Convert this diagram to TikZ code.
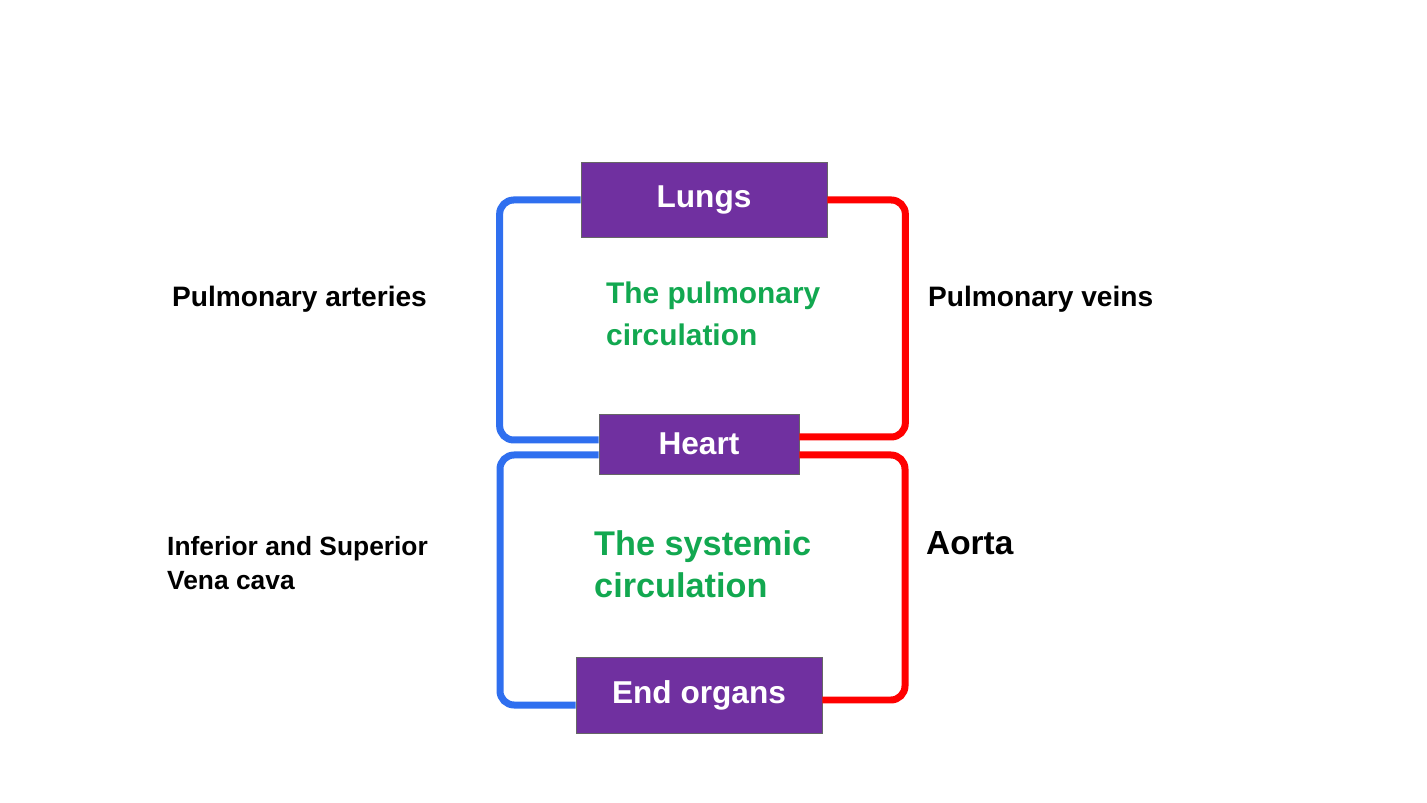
\documentclass[tikz,border=0pt]{standalone}
\usepackage{fontspec}
\setmainfont{Liberation Sans}
\usetikzlibrary{calc}
\definecolor{boxpurple}{HTML}{7030A0}
\definecolor{vesselblue}{HTML}{2F6FEF}
\definecolor{labelgreen}{HTML}{12A850}
\begin{document}
\begin{tikzpicture}[x=0.02cm,y=-0.02cm,
  organ/.style={draw=gray!80!black,fill=boxpurple,text=white,font=\bfseries\fontsize{18}{20}\selectfont,inner sep=0pt},
  vessel/.style={line width=0.14cm,rounded corners=8},
  side/.style={anchor=west,align=left,font=\bfseries}]
  \useasboundingbox (0,0) rectangle (1427,803);
  \node[organ,minimum width=246*0.02cm,minimum height=75*0.02cm] (lungs) at (704,200) {Lungs};
  \node[organ,minimum width=200*0.02cm,minimum height=60*0.02cm] (heart) at (699,444) {Heart};
  \node[organ,minimum width=246*0.02cm,minimum height=76*0.02cm] (organs) at (699,695) {End organs};
  % vessels
  \draw[vessel,vesselblue] (lungs.west) -- ++(-81,0) |- ($(heart.west)+(0,-4)$);
  \draw[vesselblue,vessel] ($(heart.west)+(0,11)$) -| (500,705) -- (organs.west|-0,705);
  \draw[vessel,red] (lungs.east) -- ++(78,0) |- ($(heart.east)+(0,-7)$);
  \draw[vessel,red] ($(heart.east)+(0,11)$) -| (905,700) -- (organs.east|-0,700);
  % labels
  \node[side,font=\bfseries\fontsize{16}{19}\selectfont] (pa) at (166,299) {Pulmonary arteries};
  \node[side,font=\bfseries\fontsize{16}{19}\selectfont] (pv) at (922,299) {Pulmonary veins};
  \node[side,font=\bfseries\fontsize{15}{19}\selectfont] (vc) at (161,563) {Inferior and Superior\\Vena cava};
  \node[side,font=\bfseries\fontsize{19}{22}\selectfont] (ao) at (920,543) {Aorta};
  \node[side,text=labelgreen,font=\bfseries\fontsize{17}{24}\selectfont] (pc) at (600,314) {The pulmonary\\circulation};
  \node[side,text=labelgreen,font=\bfseries\fontsize{19.5}{24}\selectfont] (sc) at (588,564) {The systemic\\circulation};
\end{tikzpicture}
\end{document}
